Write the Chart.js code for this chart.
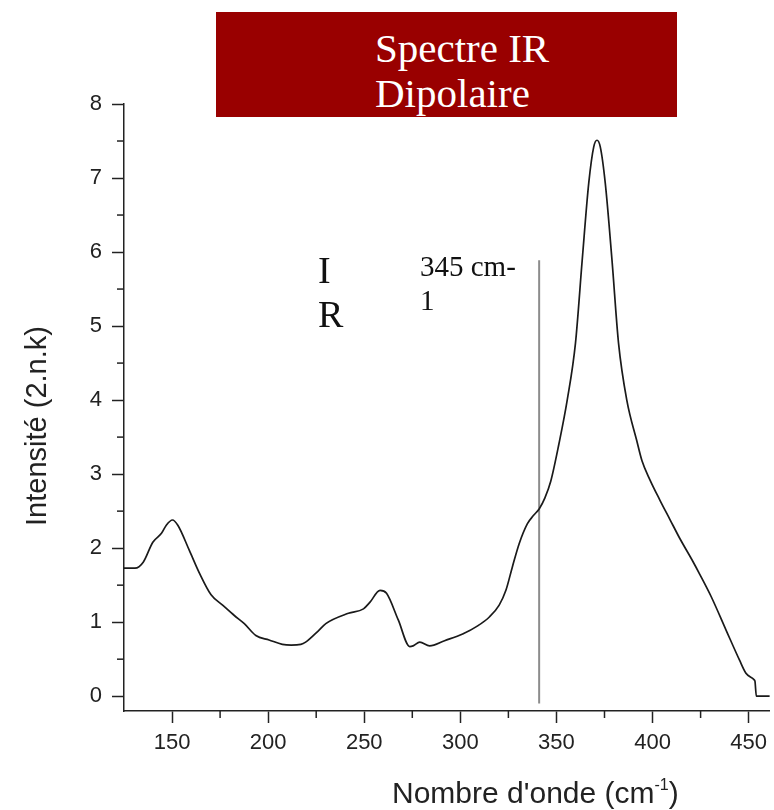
<!DOCTYPE html>
<html>
<head>
<meta charset="utf-8">
<script src="https://cdn.jsdelivr.net/npm/chart.js@4.4.1/dist/chart.umd.min.js"></script>
<style>
html,body{margin:0;padding:0;background:#fff;}
#wrap{position:relative;width:774px;height:810px;overflow:hidden;background:#fff;}
#c{position:absolute;left:0;top:0;}
.ov{position:absolute;white-space:nowrap;}
#titlebox{left:216px;top:12px;width:461px;height:105px;box-sizing:border-box;background:#990000;color:#fff;
  font-family:"Liberation Serif","Times New Roman",serif;font-size:41px;line-height:45px;padding-left:159px;padding-top:14px;text-align:left;}
#irlab{left:318px;top:248px;font-family:"Liberation Serif","Times New Roman",serif;font-size:38px;line-height:44px;color:#111;}
#wnlab{left:420px;top:249px;font-family:"Liberation Serif","Times New Roman",serif;font-size:29px;line-height:34px;color:#111;}
#xtitle{left:392px;top:777px;font-family:"Liberation Sans",Arial,sans-serif;font-size:30px;line-height:32px;color:#222;}
#xtitle sup{font-size:16px;line-height:0;vertical-align:13px;}
#ytitle{left:-124px;top:410px;width:320px;text-align:center;font-family:"Liberation Sans",Arial,sans-serif;font-size:29px;line-height:32px;color:#222;transform:rotate(-90deg);transform-origin:50% 50%;}
</style>
</head>
<body>
<div id="wrap">
  <canvas id="c" width="774" height="810"></canvas>
  <div class="ov" id="titlebox">Spectre IR<br>Dipolaire</div>
  <div class="ov" id="irlab">I<br>R</div>
  <div class="ov" id="wnlab">345 cm-<br>1</div>
  <div class="ov" id="xtitle">Nombre d'onde (cm<sup>-1</sup>)</div>
  <div class="ov" id="ytitle">Intensité (2.n.k)</div>
</div>
<script>
// Spectrum (wavenumber in cm-1, intensity in 2.n.k)
const wavenumber = [125, 130.7, 135, 140, 144.5, 147, 150.2, 153, 159, 164.3, 170.3, 176.3, 182.4, 187.6, 193.6,
  200.5, 207.4, 212, 217, 219.5, 226, 230, 241.8, 249.6, 253, 258.2, 261.6, 267.7, 273.7, 275.4, 278.9, 284,
  291.8, 301.2, 309, 315.1, 320.2, 323.7, 327.1, 330.6, 334.9, 338, 341, 344, 347, 351.3, 355.6, 359.9, 363.4,
  366.8, 369.4, 371.1, 372.8, 375.4, 378.9, 382.3, 386.6, 391.8, 394.5, 398.7, 403.8, 409, 414.2, 421, 424.5,
  430.6, 438.3, 445.2, 448.6, 452.9, 453.3, 454, 461];
const intensity = [1.73, 1.73, 1.81, 2.08, 2.2, 2.31, 2.38, 2.31, 1.97, 1.66, 1.37, 1.23, 1.09, 0.98, 0.82,
  0.76, 0.70, 0.69, 0.70, 0.73, 0.88, 0.98, 1.12, 1.18, 1.27, 1.43, 1.39, 1.03, 0.67, 0.68, 0.73, 0.68,
  0.75, 0.84, 0.95, 1.07, 1.23, 1.43, 1.75, 2.06, 2.33, 2.44, 2.53, 2.68, 2.9, 3.41, 4.0, 4.77, 5.89,
  6.93, 7.42, 7.51, 7.42, 6.93, 5.89, 4.77, 4.0, 3.45, 3.18, 2.92, 2.65, 2.39, 2.13, 1.82, 1.65,
  1.34, 0.89, 0.49, 0.31, 0.22, 0.2, 0.0, 0.0];

// Vertical marker line (labelled 345 cm-1)
const markerX = [341, 341];
const markerY = [5.89, -0.1];

// Axis ticks
const xTicks = [150, 200, 250, 300, 350, 400, 450];
const xMinorTicks = [175, 225, 275, 325, 375, 425];
const yTicks = [0, 1, 2, 3, 4, 5, 6, 7, 8];
const yMinorTicks = [0.5, 1.5, 2.5, 3.5, 4.5, 5.5, 6.5, 7.5];

const axisColor = '#222';
const fontFam = '"Liberation Sans", Arial, sans-serif';

const minorTickPlugin = {
  id: 'minorTicks',
  afterDraw(chart) {
    const ctx = chart.ctx;
    const xs = chart.scales.x, ys = chart.scales.y;
    ctx.save();
    ctx.strokeStyle = axisColor;
    ctx.lineWidth = 1.5;
    xMinorTicks.forEach(v => {
      const px = xs.getPixelForValue(v);
      ctx.beginPath(); ctx.moveTo(px, xs.top); ctx.lineTo(px, xs.top + 7); ctx.stroke();
    });
    yMinorTicks.forEach(v => {
      const py = ys.getPixelForValue(v);
      ctx.beginPath(); ctx.moveTo(ys.right, py); ctx.lineTo(ys.right - 7, py); ctx.stroke();
    });
    ctx.restore();
  }
};

new Chart(document.getElementById('c'), {
  type: 'scatter',
  data: {
    datasets: [
      {
        label: 'Spectre IR',
        data: wavenumber.map((x, i) => ({ x: x, y: intensity[i] })),
        showLine: true,
        borderColor: '#1a1a1a',
        borderWidth: 1.7,
        pointRadius: 0,
        cubicInterpolationMode: 'monotone'
      },
      {
        label: '345 cm-1',
        data: markerX.map((x, i) => ({ x: x, y: markerY[i] })),
        showLine: true,
        borderColor: '#8c8c8c',
        borderWidth: 2,
        pointRadius: 0,
        tension: 0
      }
    ]
  },
  options: {
    responsive: false,
    animation: false,
    devicePixelRatio: 1,
    layout: { padding: { top: 104, right: 0, bottom: 0, left: 0 } },
    plugins: { legend: { display: false }, tooltip: { enabled: false }, title: { display: false } },
    scales: {
      x: {
        type: 'linear',
        min: 125, max: 461,
        afterBuildTicks: a => { a.ticks = xTicks.map(v => ({ value: v })); },
        afterFit: s => { s.height = 99; },
        grid: { drawOnChartArea: false, drawTicks: true, tickLength: 12, tickColor: axisColor, tickWidth: 1.5 },
        border: { display: true, color: axisColor, width: 1.5 },
        ticks: { font: { family: fontFam, size: 22 }, color: '#222', padding: 7, maxRotation: 0, autoSkip: false }
      },
      y: {
        type: 'linear',
        min: -0.2, max: 8,
        afterBuildTicks: a => { a.ticks = yTicks.map(v => ({ value: v })); },
        afterFit: s => { s.width = 124; },
        grid: { drawOnChartArea: false, drawTicks: true, tickLength: 12, tickColor: axisColor, tickWidth: 1.5 },
        border: { display: true, color: axisColor, width: 1.5 },
        ticks: { font: { family: fontFam, size: 22 }, color: '#222', padding: 10, autoSkip: false }
      }
    }
  },
  plugins: [minorTickPlugin]
});
</script>
</body>
</html>
